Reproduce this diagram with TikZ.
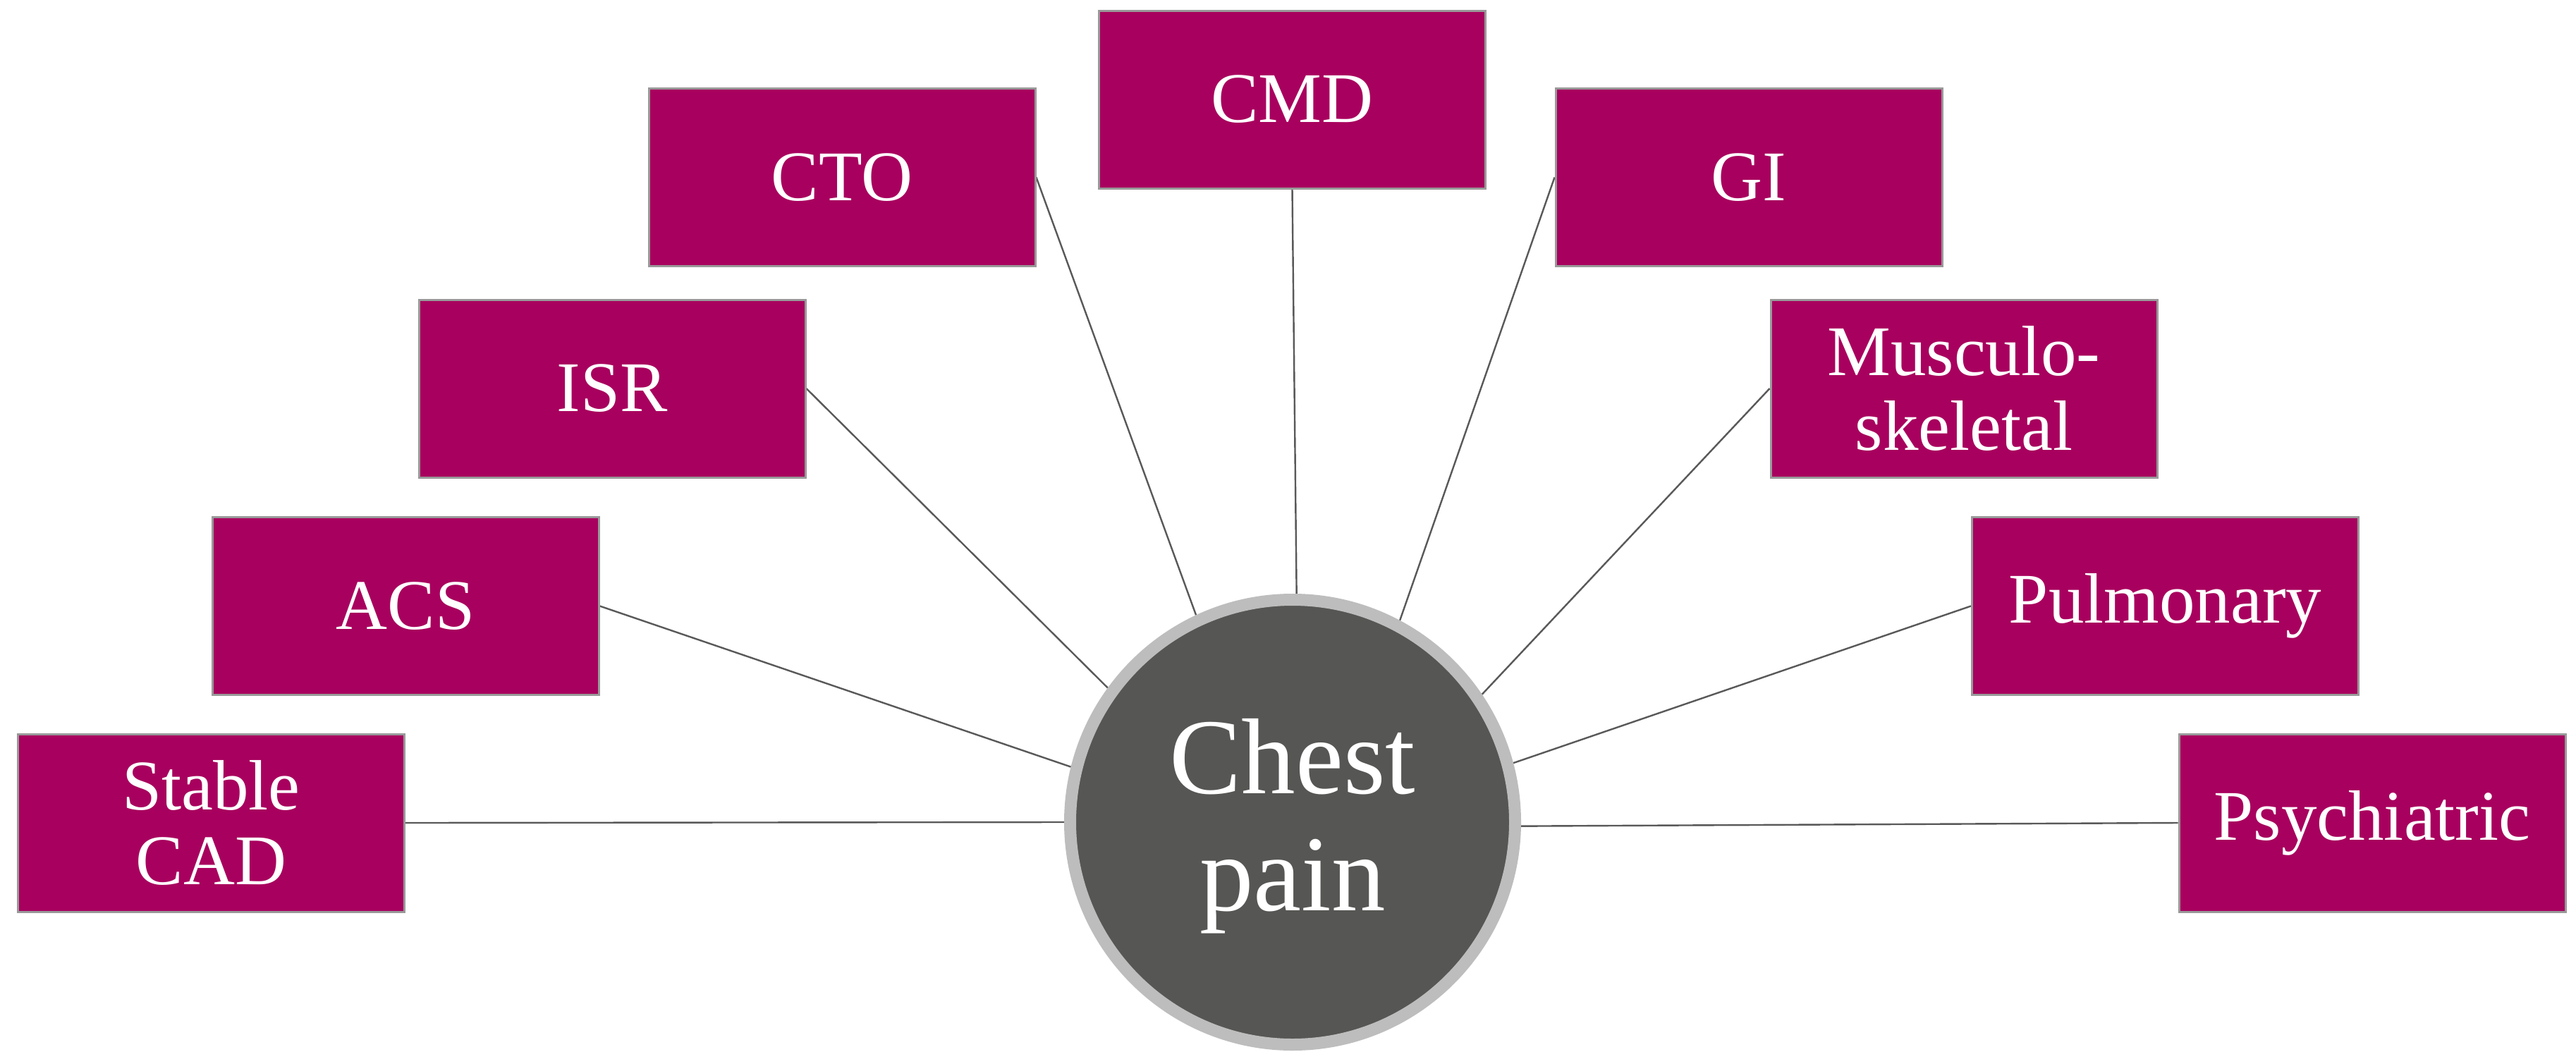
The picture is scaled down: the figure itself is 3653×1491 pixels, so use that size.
\documentclass[tikz,border=0pt]{standalone}
\usepackage{fontspec}
\setmainfont{Liberation Serif}
\usetikzlibrary{backgrounds}
\definecolor{boxfill}{HTML}{A8005E}
\definecolor{boxline}{HTML}{999999}
\definecolor{hubfill}{HTML}{565654}
\definecolor{hubline}{HTML}{BDBDBD}
\definecolor{connline}{HTML}{595959}
\tikzset{
  catbox/.style={rectangle, draw=boxline, line width=3pt, fill=boxfill,
    minimum width=548pt, minimum height=252pt, inner sep=0pt,
    text=white, align=center, font=\fontsize{101}{106}\selectfont},
  hub/.style={circle, draw=hubline, line width=17pt, fill=hubfill,
    minimum size=631pt, inner sep=0pt},
  hubtext/.style={text=white, align=center,
    font=\fontsize{153}{166}\selectfont},
  conn/.style={draw=connline, line width=2.4pt}
}
\begin{document}
\begin{tikzpicture}[x=1pt,y=-1pt]
\useasboundingbox (0,0) rectangle (3653,1491);
\node[hub, label={[hubtext, yshift=-6pt]center:Chest\\pain}] (chest) at (1833,1166) {};
\node[catbox] (stable) at (299.5,1167) {Stable\\CAD};
\node[catbox] (acs) at (575,859.5) {ACS};
\node[catbox] (isr) at (868,551) {ISR};
\node[catbox] (cto) at (1194,251.5) {CTO};
\node[catbox] (cmd) at (1832.5,141) {CMD};
\node[catbox] (gi) at (2480,251.5) {GI};
\node[catbox] (musc) at (2785,551) {Musculo-\\skeletal};
\node[catbox] (pulm) at (3070.5,859.5) {Pulmonary};
\node[catbox] (psych) at (3364,1167) {Psychiatric};
\begin{pgfonlayer}{background}
\fill[white] (0,0) rectangle (3653,1491);
\draw[conn] (stable.east) -- (chest.180);
\draw[conn] (acs.east) -- (chest.166.5);
\draw[conn] (isr.east) -- (chest.144.6);
\draw[conn] (cto.east) -- (chest.115);
\draw[conn] (cmd.south) -- (chest.89.3);
\draw[conn] (gi.west) -- (chest.62.2);
\draw[conn] (musc.west) -- (chest.34.4);
\draw[conn] (pulm.west) -- (chest.15.2);
\draw[conn] (psych.west) -- (chest.-1.2);
\end{pgfonlayer}
\end{tikzpicture}
\end{document}
